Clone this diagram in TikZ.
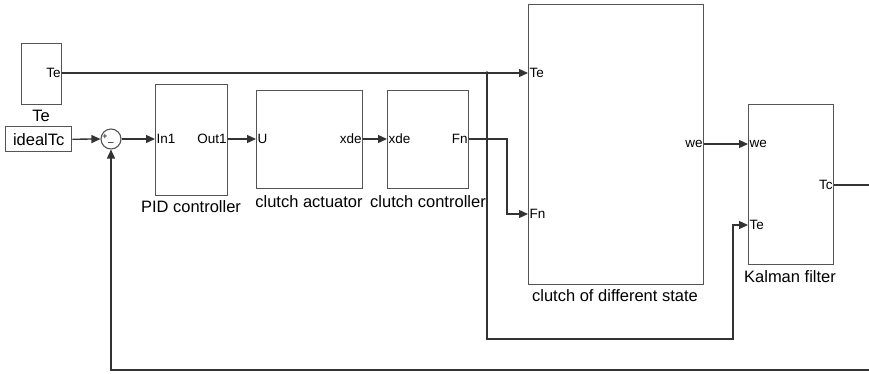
\documentclass[tikz,border=0pt]{standalone}
\usepackage{fontspec}
\setmainfont{Liberation Sans}
\usetikzlibrary{arrows.meta}
\definecolor{boxc}{HTML}{555555}
\definecolor{linec}{HTML}{333333}
\begin{document}
\begin{tikzpicture}[x=1pt,y=-1pt,
  blk/.style={draw=boxc,line width=1.4pt,anchor=north west,inner sep=0pt,fill=white},
  plab/.style={font=\fontsize{13.5}{15}\selectfont,inner sep=1.5pt},
  blab/.style={font=\fontsize{16.5}{18}\selectfont,inner sep=0pt},
  conn/.style={draw=linec,line width=1.3pt},
  arr/.style={conn,-{Triangle[length=9pt,width=8pt]}}]
\useasboundingbox (0,0) rectangle (869,373);
% blocks
\node[blk,minimum width=40pt,minimum height=61pt] (te) at (21,43) {};
\node[plab,anchor=east] (teo) at (te.east |- 0,73) {Te};
\node[blab] (telab) at (41,116) {Te};
\node[blk,minimum width=66pt,minimum height=25pt,font=\fontsize{16.5}{18}\selectfont] (ideal) at (5,126) {idealTc};
\node[draw=boxc,line width=1.1pt,circle,minimum size=20pt,inner sep=0pt] (sum) at (111,139) {};
\node[font=\fontsize{9}{9}\selectfont,inner sep=0pt] (sp) at (105,137) {+};
\node[font=\fontsize{10}{10}\selectfont,inner sep=0pt] (sm) at (111,144) {--};
\node[blk,minimum width=72pt,minimum height=111pt] (pid) at (155,84) {};
\node[plab,anchor=west] (pidin) at (pid.west |- 0,139) {In1};
\node[plab,anchor=east] (pidout) at (pid.east |- 0,139) {Out1};
\node[blab] (pidlab) at (191,207) {PID controller};
\node[blk,minimum width=106pt,minimum height=98pt] (act) at (256,90) {};
\node[plab,anchor=west] (actin) at (act.west |- 0,139) {U};
\node[plab,anchor=east] (actout) at (act.east |- 0,139) {xde};
\node[blab] (actlab) at (309,202) {clutch actuator};
\node[blk,minimum width=81pt,minimum height=98pt] (ctl) at (387,90) {};
\node[plab,anchor=west] (ctlin) at (ctl.west |- 0,139) {xde};
\node[plab,anchor=east] (ctlout) at (ctl.east |- 0,139) {Fn};
\node[blab] (ctllab) at (428,202) {clutch controller};
\node[blk,minimum width=175pt,minimum height=280pt] (cds) at (528,4) {};
\node[plab,anchor=west] (cdste) at (cds.west |- 0,73) {Te};
\node[plab,anchor=west] (cdsfn) at (cds.west |- 0,214) {Fn};
\node[plab,anchor=east] (cdswe) at (cds.east |- 0,144) {we};
\node[blab] (cdslab) at (615,296) {clutch of different state};
\node[blk,minimum width=85pt,minimum height=160pt] (kf) at (748,104) {};
\node[plab,anchor=west] (kfwe) at (kf.west |- 0,144) {we};
\node[plab,anchor=west] (kfte) at (kf.west |- 0,225) {Te};
\node[plab,anchor=east] (kftc) at (kf.east |- 0,185) {Tc};
\node[blab] (kflab) at (790,277) {Kalman filter};
% helper coordinates
\coordinate (br) at (487,73);
\coordinate (fnb) at (507,139);
\coordinate (low) at (733,339);
\coordinate (edgetc) at (870,185);
\coordinate (edgebot) at (870,370);
\coordinate (fbl) at (111,370);
% connectors
\draw[arr] (te.east |- teo) -- (cds.west |- cdste);
\fill[linec] (br) circle (1.8pt);
\draw[arr] (br) -- (br |- low) -- (low) -- (low |- kfte) -- (kf.west |- kfte);
\draw[arr] (ideal.east) -- (sum.west);
\draw[arr] (sum.east) -- (pid.west |- pidin);
\draw[arr] (pid.east |- pidout) -- (act.west |- actin);
\draw[arr] (act.east |- actout) -- (ctl.west |- ctlin);
\draw[arr] (ctl.east |- ctlout) -- (fnb) -- (fnb |- cdsfn) -- (cds.west |- cdsfn);
\draw[arr] (cds.east |- cdswe) -- (kf.west |- kfwe);
\draw[conn] (kf.east |- kftc) -- (edgetc);
\draw[arr] (edgebot) -- (fbl) -- (sum.south);
\end{tikzpicture}
\end{document}
